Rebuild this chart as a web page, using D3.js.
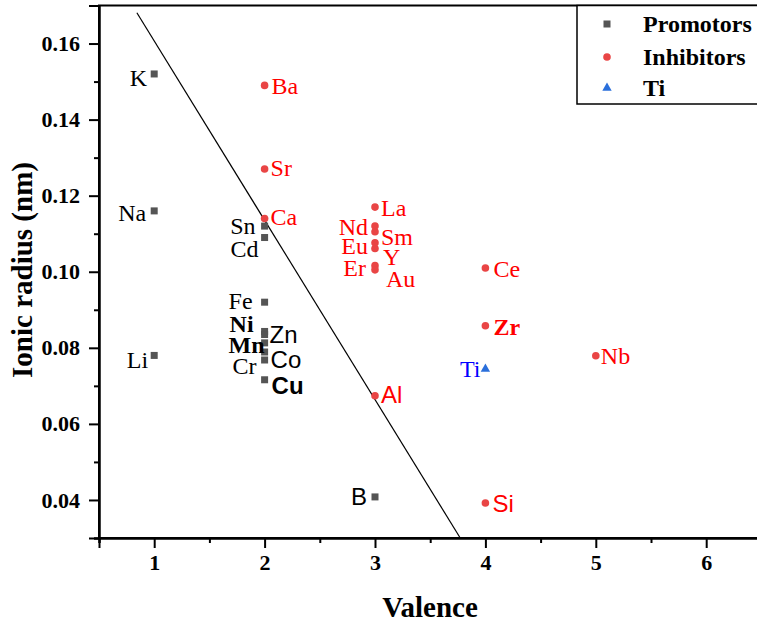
<!DOCTYPE html>
<html><head><meta charset="utf-8">
<script src="https://cdn.jsdelivr.net/npm/d3@7"></script>
<style>body{margin:0;background:#fff}svg{display:block}</style>
</head><body>
<svg id="c" width="757" height="624"></svg>
<script>
// ---- data ----
const promotorNames   = ["K","Na","Li","Sn","Cd","Fe","Ni","Zn","Mn","Co","Cr","Cu","B"];
const promotorValence = [1,1,1,2,2,2,2,2,2,2,2,2,3];
const promotorRadius  = [0.152,0.116,0.078,0.112,0.109,0.092,0.0843,0.0835,0.0813,0.0789,0.0768,0.0716,0.0408];

const inhibitorNames   = ["Ba","Sr","Ca","La","Nd","Sm","Eu","Y","Er","Au","Ce","Zr","Nb","Al","Si"];
const inhibitorValence = [2,2,2,3,3,3,3,3,3,3,4,4,5,3,4];
const inhibitorRadius  = [0.149,0.127,0.114,0.117,0.112,0.1105,0.1076,0.1061,0.1016,0.1005,0.101,0.0858,0.0779,0.0674,0.0392];

const tiNames   = ["Ti"];
const tiValence = [4];
const tiRadius  = [0.0747];

const lineValence = [0.843, 3.772];
const lineRadius  = [0.1681, 0.03];

const xTicks = [1,2,3,4,5,6];
const yTicks = [0.04,0.06,0.08,0.10,0.12,0.14,0.16];
const legendLabels = ["Promotors","Inhibitors","Ti"];

// ---- label layout (px offsets, anchor, font, bold) ----
const SERIF = '"Liberation Serif"';
const SANS  = '"Liberation Sans"';
const lay = {
  K:[-7,4,"end",SERIF,0], Na:[-8,2,"end",SERIF,0], Li:[-6,4,"end",SERIF,0],
  Sn:[-9,-1,"end",SERIF,0], Cd:[-6,11,"end",SERIF,0], Fe:[-12,-2,"end",SERIF,0],
  Ni:[-11,-8,"end",SERIF,1], Zn:[5,0,"start",SANS,0], Mn:[0,2,"end",SERIF,1],
  Co:[6,8,"start",SANS,0], Cr:[-8,6,"end",SERIF,0], Cu:[7,6,"start",SANS,1],
  B:[-8,0,"end",SANS,0],
  Ba:[7,0,"start",SERIF,0], Sr:[6,-1,"start",SERIF,0], Ca:[6,-2,"start",SERIF,0],
  La:[6,1,"start",SERIF,0], Nd:[-7,0,"end",SERIF,0], Sm:[6,5,"start",SERIF,0],
  Eu:[-7,3,"end",SERIF,0], Y:[8,8,"start",SERIF,0], Er:[-9,2,"end",SERIF,0],
  Au:[11,9,"start",SERIF,0], Ce:[8,1,"start",SERIF,0], Zr:[8,1,"start",SERIF,1],
  Nb:[5,0,"start",SERIF,0], Al:[6,-1,"start",SANS,0], Si:[7,1,"start",SANS,0],
  Ti:[-5,1,"end",SERIF,0]
};

const GRAY = "#555555", RED = "#e94545", BLUE = "#2a6fdb";
const svg = d3.select("#c");
const x = d3.scaleLinear().domain([0.5,6.5]).range([99,761.4]);
const y = d3.scaleLinear().domain([0.03,0.17]).range([538,5.5]);

// frame
svg.append("rect").attr("x",x(0.5)).attr("y",y(0.17)).attr("width",x(6.5)-x(0.5)).attr("height",y(0.03)-y(0.17))
  .attr("fill","none").attr("stroke","#000").attr("stroke-width",2);

// axes
svg.append("g").attr("transform",`translate(0,${y(0.03)})`)
  .call(d3.axisBottom(x).tickValues(xTicks).tickFormat(d3.format("d")).tickSize(10).tickPadding(6));
svg.append("g").attr("transform",`translate(0,${y(0.03)})`)
  .call(d3.axisBottom(x).tickValues([0.5,1.5,2.5,3.5,4.5,5.5,6.5]).tickFormat("").tickSize(5));
svg.append("g").attr("transform",`translate(${x(0.5)},0)`)
  .call(d3.axisLeft(y).tickValues(yTicks).tickFormat(d3.format(".2f")).tickSize(10).tickPadding(9));
svg.append("g").attr("transform",`translate(${x(0.5)},0)`)
  .call(d3.axisLeft(y).tickValues([0.03,0.05,0.07,0.09,0.11,0.13,0.15,0.17]).tickFormat("").tickSize(5));
svg.selectAll(".domain").attr("stroke","#000").attr("stroke-width",2);
svg.selectAll(".tick line").attr("stroke","#000").attr("stroke-width",2);
svg.selectAll(".tick text").style("font-family",SERIF).style("font-weight","bold").style("font-size","22px").attr("fill","#000");

// axis titles
svg.append("text").attr("x",430).attr("y",617).attr("text-anchor","middle")
  .style("font-family",SERIF).style("font-weight","bold").style("font-size","29px").text("Valence");
svg.append("text").attr("transform",`translate(32,270) rotate(-90)`).attr("text-anchor","middle")
  .style("font-family",SERIF).style("font-weight","bold").style("font-size","29px").text("Ionic radius (nm)");

// trend line
svg.append("line").attr("x1",x(lineValence[0])).attr("y1",y(lineRadius[0]))
  .attr("x2",x(lineValence[1])).attr("y2",y(lineRadius[1])).attr("stroke","#000").attr("stroke-width",1.2);

function labels(names, vals, rads, color){
  svg.append("g").selectAll("text").data(names).join("text")
    .attr("x",(d,i)=>x(vals[i])+lay[d][0]).attr("y",(d,i)=>y(rads[i])+lay[d][1]).attr("dy","0.35em")
    .attr("text-anchor",d=>lay[d][2]).style("font-family",d=>lay[d][3])
    .style("font-weight",d=>lay[d][4]?"bold":"normal").style("font-size","24px").attr("fill",color).text(d=>d);
}
// promotors
svg.append("g").selectAll("rect").data(promotorNames).join("rect")
  .attr("x",(d,i)=>x(promotorValence[i])-3.5).attr("y",(d,i)=>y(promotorRadius[i])-3.5)
  .attr("width",7).attr("height",7).attr("fill",GRAY);
labels(promotorNames,promotorValence,promotorRadius,"#000");
// inhibitors
svg.append("g").selectAll("circle").data(inhibitorNames).join("circle")
  .attr("cx",(d,i)=>x(inhibitorValence[i])).attr("cy",(d,i)=>y(inhibitorRadius[i])).attr("r",3.8).attr("fill",RED);
labels(inhibitorNames,inhibitorValence,inhibitorRadius,"#ff0000");
// Ti
const tri = d3.symbol().type(d3.symbolTriangle).size(38);
svg.append("g").selectAll("path").data(tiNames).join("path")
  .attr("transform",(d,i)=>`translate(${x(tiValence[i])},${y(tiRadius[i])+1})`).attr("d",tri).attr("fill",BLUE);
labels(tiNames,tiValence,tiRadius,"#0000ff");

// legend
const lg = svg.append("g");
lg.append("rect").attr("x",577).attr("y",y(0.17)).attr("width",200).attr("height",104-y(0.17))
  .attr("fill","#fff").attr("stroke","#000").attr("stroke-width",1.5);
const legY = [24,57,88];
lg.append("rect").attr("x",607-3.5).attr("y",legY[0]-3.5).attr("width",7).attr("height",7).attr("fill",GRAY);
lg.append("circle").attr("cx",607).attr("cy",legY[1]).attr("r",3.8).attr("fill",RED);
lg.append("path").attr("transform",`translate(607,${legY[2]})`).attr("d",tri).attr("fill",BLUE);
lg.selectAll("text.l").data(legendLabels).join("text").attr("class","l")
  .attr("x",643).attr("y",(d,i)=>legY[i]).attr("dy","0.35em")
  .style("font-family",SERIF).style("font-weight","bold").style("font-size","24px").text(d=>d);
</script>
</body></html>
